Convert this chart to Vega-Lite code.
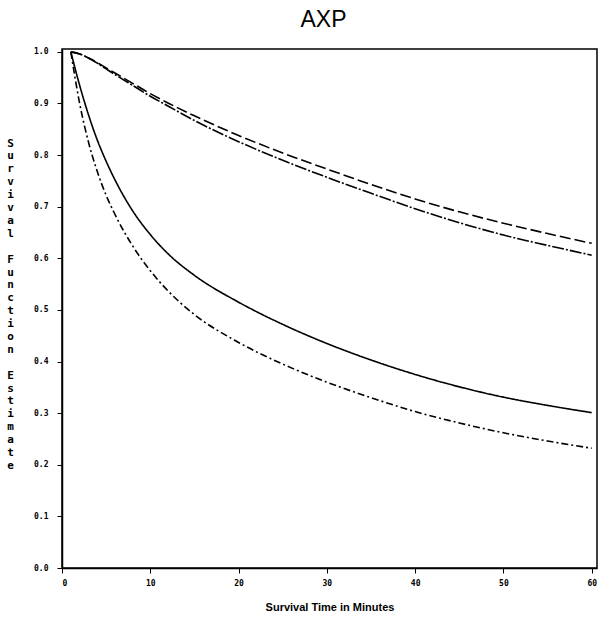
{
  "$schema": "https://vega.github.io/schema/vega-lite/v6.json",
  "autosize": {"type": "none"},
  "padding": {"left": 62, "top": 49, "right": 8, "bottom": 54},
  "width": 535,
  "height": 519,
  "background": "white",
  "title": {"text": "AXP", "fontSize": 23, "font": "Liberation Sans", "fontWeight": "normal", "color": "black", "anchor": "middle", "offset": 16, "dx": -6},
  "config": {
    "view": {"stroke": "black", "strokeWidth": 1.5},
    "axis": {"grid": false, "domainColor": "black", "tickColor": "black", "labelColor": "black", "titleColor": "black", "labelFont": "DejaVu Sans Mono", "labelFontSize": 8, "labelFontWeight": "bold", "tickSize": 5, "domainWidth": 1.5}
  },
  "data": {"values": [
    {"t": 1, "v": 1.0, "s": "A"}, {"t": 2, "v": 0.996, "s": "A"}, {"t": 3, "v": 0.988, "s": "A"}, {"t": 4, "v": 0.979, "s": "A"}, {"t": 5, "v": 0.969, "s": "A"}, {"t": 6, "v": 0.959, "s": "A"}, {"t": 8, "v": 0.939, "s": "A"}, {"t": 10, "v": 0.919, "s": "A"}, {"t": 12, "v": 0.901, "s": "A"}, {"t": 15, "v": 0.876, "s": "A"}, {"t": 20, "v": 0.838, "s": "A"}, {"t": 25, "v": 0.804, "s": "A"}, {"t": 30, "v": 0.773, "s": "A"}, {"t": 35, "v": 0.743, "s": "A"}, {"t": 40, "v": 0.715, "s": "A"}, {"t": 45, "v": 0.69, "s": "A"}, {"t": 50, "v": 0.668, "s": "A"}, {"t": 55, "v": 0.648, "s": "A"}, {"t": 60, "v": 0.629, "s": "A"},
    {"t": 1, "v": 1.0, "s": "B"}, {"t": 2, "v": 0.996, "s": "B"}, {"t": 3, "v": 0.988, "s": "B"}, {"t": 4, "v": 0.978, "s": "B"}, {"t": 5, "v": 0.967, "s": "B"}, {"t": 6, "v": 0.956, "s": "B"}, {"t": 8, "v": 0.935, "s": "B"}, {"t": 10, "v": 0.914, "s": "B"}, {"t": 12, "v": 0.895, "s": "B"}, {"t": 15, "v": 0.867, "s": "B"}, {"t": 20, "v": 0.826, "s": "B"}, {"t": 25, "v": 0.79, "s": "B"}, {"t": 30, "v": 0.757, "s": "B"}, {"t": 35, "v": 0.726, "s": "B"}, {"t": 40, "v": 0.696, "s": "B"}, {"t": 45, "v": 0.669, "s": "B"}, {"t": 50, "v": 0.645, "s": "B"}, {"t": 55, "v": 0.625, "s": "B"}, {"t": 60, "v": 0.606, "s": "B"},
    {"t": 1, "v": 1.0, "s": "C"}, {"t": 2, "v": 0.935, "s": "C"}, {"t": 3, "v": 0.878, "s": "C"}, {"t": 4, "v": 0.829, "s": "C"}, {"t": 5, "v": 0.788, "s": "C"}, {"t": 6, "v": 0.752, "s": "C"}, {"t": 8, "v": 0.692, "s": "C"}, {"t": 10, "v": 0.646, "s": "C"}, {"t": 12, "v": 0.609, "s": "C"}, {"t": 15, "v": 0.567, "s": "C"}, {"t": 20, "v": 0.515, "s": "C"}, {"t": 25, "v": 0.472, "s": "C"}, {"t": 30, "v": 0.435, "s": "C"}, {"t": 35, "v": 0.403, "s": "C"}, {"t": 40, "v": 0.375, "s": "C"}, {"t": 45, "v": 0.351, "s": "C"}, {"t": 50, "v": 0.331, "s": "C"}, {"t": 55, "v": 0.315, "s": "C"}, {"t": 60, "v": 0.301, "s": "C"},
    {"t": 1, "v": 1.0, "s": "D"}, {"t": 2, "v": 0.9, "s": "D"}, {"t": 3, "v": 0.825, "s": "D"}, {"t": 4, "v": 0.768, "s": "D"}, {"t": 5, "v": 0.722, "s": "D"}, {"t": 6, "v": 0.685, "s": "D"}, {"t": 8, "v": 0.624, "s": "D"}, {"t": 10, "v": 0.576, "s": "D"}, {"t": 12, "v": 0.537, "s": "D"}, {"t": 15, "v": 0.491, "s": "D"}, {"t": 20, "v": 0.437, "s": "D"}, {"t": 25, "v": 0.395, "s": "D"}, {"t": 30, "v": 0.36, "s": "D"}, {"t": 35, "v": 0.33, "s": "D"}, {"t": 40, "v": 0.303, "s": "D"}, {"t": 45, "v": 0.281, "s": "D"}, {"t": 50, "v": 0.262, "s": "D"}, {"t": 55, "v": 0.246, "s": "D"}, {"t": 60, "v": 0.232, "s": "D"}
  ]},
  "mark": {"type": "line", "color": "black", "strokeWidth": 1.6, "interpolate": "monotone"},
  "encoding": {
    "x": {"field": "t", "type": "quantitative", "scale": {"domain": [0, 60.6], "nice": false, "zero": false},
      "axis": {"values": [0, 10, 20, 30, 40, 50, 60], "format": "d", "labelPadding": 6, "title": "Survival Time in Minutes", "titleFont": "Liberation Sans", "titleFontSize": 11, "titleFontWeight": "bold", "titlePadding": 14}},
    "y": {"field": "v", "type": "quantitative", "scale": {"domain": [0, 1.0055], "nice": false},
      "axis": {"values": [0, 0.1, 0.2, 0.3, 0.4, 0.5, 0.6, 0.7, 0.8, 0.9, 1.0], "format": ".1f", "labelPadding": 9,
        "title": ["S","u","r","v","i","v","a","l","\u200b","F","u","n","c","t","i","o","n","\u200b","E","s","t","i","m","a","t","e"],
        "titleAngle": 0, "titleFont": "DejaVu Sans Mono", "titleFontSize": 11, "titleFontWeight": "bold", "titleLineHeight": 12.9, "titleAlign": "center", "titleBaseline": "middle", "titleX": -52, "titleY": 94}},
    "detail": {"field": "s"},
    "strokeDash": {"field": "s", "type": "nominal", "legend": null,
      "scale": {"domain": ["A", "B", "C", "D"], "range": [[11, 4], [12, 2, 2, 2], [1, 0], [7, 3, 2, 3]]}}
  }
}
